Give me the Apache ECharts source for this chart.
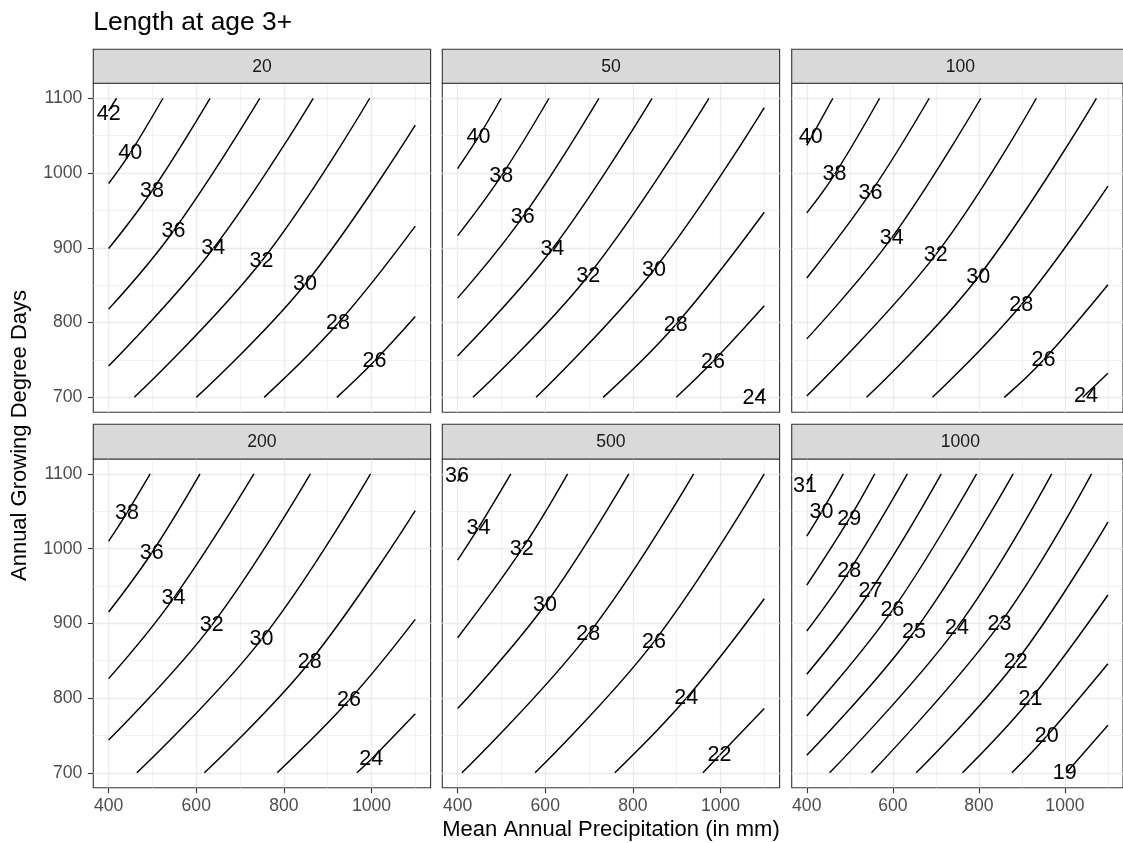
<!DOCTYPE html>
<html><head><meta charset="utf-8">
<script src="https://cdn.jsdelivr.net/npm/echarts@6/dist/echarts.min.js"></script>
<style>html,body{margin:0;padding:0;background:#fff}#c{width:1123px;height:843px}</style>
</head><body><div id="c"></div>
<script>
// ---------- data ----------
const facetLabels = ['20', '50', '100', '200', '500', '1000'];
const xTicks = [400, 600, 800, 1000];
const xMinor = [500, 700, 900, 1100];
const yTicks = [700, 800, 900, 1000, 1100];
const yMinor = [750, 850, 950, 1050];

// contour lines: [level, [[precip, gdd], ...]]
const lines20 = [
  [42, [[400,1083],[418,1100]]],
  [40, [[400,986],[449.4,1027],[524,1100]]],
  [38, [[400,899],[498.8,976],[631.5,1100]]],
  [36, [[400,818],[548,922.5],[745,1100]]],
  [34, [[400,742],[639,899],[867,1100]]],
  [32, [[458.5,700],[749,882],[996,1100]]],
  [30, [[600,700],[848,851],[1100,1064]]],
  [28, [[755,700],[923.6,799],[1100,929]]],
  [26, [[921,700],[1007,748.6],[1100,808]]]
];
const labels20 = [[400,1079,42],[449.4,1027,40],[498.8,976,38],[548,922.5,36],[639,899,34],[749,882,32],[848,851,30],[923.6,799,28],[1007,748.6,26]];

const lines50 = [
  [40, [[400,1006],[447.8,1048.6],[499.4,1100]]],
  [38, [[400,916.3],[499.4,995.9],[608.6,1100]]],
  [36, [[400,832.7],[548.7,941.3],[722.5,1100]]],
  [34, [[400,755.4],[616.2,898.4],[843.9,1100]]],
  [32, [[434.9,700],[698.2,862.7],[973.6,1100]]],
  [30, [[579,700],[848.4,870.7],[1100,1087.5]]],
  [28, [[732.3,700],[897.7,797],[1100,947.6]]],
  [26, [[899.2,700],[982.7,747.8],[1100,822.5]]],
  [24, [[1085,700],[1100,712]]]
];
const labels50 = [[447.8,1048.6,40],[499.4,995.9,38],[548.7,941.3,36],[616.2,898.4,34],[698.2,862.7,32],[848.4,870.7,30],[897.7,797,28],[982.7,747.8,26],[1077.5,698.7,24]];

const lines100 = [
  [40, [[400,1037],[460.7,1100]]],
  [38, [[400,946.7],[464.5,998],[569.3,1100]]],
  [36, [[400,859.6],[548,973.5],[684.6,1100]]],
  [34, [[400,778.2],[597.3,913.2],[804.6,1100]]],
  [32, [[400,701.8],[699.8,890.8],[933.6,1100]]],
  [30, [[538.9,700],[798.5,860.9],[1073.2,1100]]],
  [28, [[692.2,700],[898.7,823.8],[1100,982.5]]],
  [26, [[859.2,700],[950.3,750],[1100,850.6]]],
  [24, [[1041.4,700],[1100,732.2]]]
];
const labels100 = [[409,1048.6,40],[464.5,998,38],[548,973.5,36],[597.3,913.2,34],[699.8,890.8,32],[798.5,860.9,30],[898.7,823.8,28],[950.3,750,26],[1049,701.8,24]];

const lines200 = [
  [38, [[400,1010],[441.7,1048],[494.8,1100]]],
  [36, [[400,915.2],[498.6,994.5],[608.6,1100]]],
  [34, [[400,826],[548,933.4],[731.6,1100]]],
  [32, [[400,744],[635.2,897.3],[860.5,1100]]],
  [30, [[464.5,700],[749,878.6],[997.9,1100]]],
  [28, [[618.5,700],[859,848.3],[1100,1051]]],
  [26, [[784.7,700],[948.6,797],[1100,905.3]]],
  [24, [[966.8,700],[999.4,718],[1100,779]]]
];
const labels200 = [[441.7,1048,38],[498.6,994.5,36],[548,933.4,34],[635.2,897.3,32],[749,878.6,30],[859,848.3,28],[948.6,797,26],[999.4,718,24]];

const lines500 = [
  [36, [[400,1090],[410,1100]]],
  [34, [[400,984.7],[447.8,1028],[521.4,1100]]],
  [32, [[400,880.8],[546.4,999],[651.1,1100]]],
  [30, [[400,785.9],[599.5,924.5],[790.7,1100]]],
  [28, [[409.9,700],[698.2,885.3],[938.7,1100]]],
  [26, [[576.8,700],[848.4,875.5],[1100,1100]]],
  [24, [[758.9,700],[922,799.7],[1100,933]]],
  [22, [[960,700],[997.9,723.4],[1100,785.9]]]
];
const labels500 = [[398.5,1097,36],[447.8,1028,34],[546.4,999,32],[599.5,924.5,30],[698.2,885.3,28],[848.4,875.5,26],[922,799.7,24],[997.9,723.4,22]];

const lines1000 = [
  [31, [[400,1086],[412.9,1100]]],
  [30, [[400,1016.8],[434.2,1049],[485,1100]]],
  [29, [[400,951.3],[498.7,1040],[557.9,1100]]],
  [28, [[400,889.7],[498.7,970],[633.8,1100]]],
  [27, [[400,831.8],[548,943.3],[712.7,1100]]],
  [26, [[400,776],[598.9,917.4],[794.7,1100]]],
  [25, [[400,723.4],[649,888.4],[879.7,1100]]],
  [24, [[453.1,700],[749.1,894.2],[969.3,1100]]],
  [23, [[550.3,700],[847.8,898.7],[1061.9,1100]]],
  [22, [[654.3,700],[885.8,848],[1100,1035.6]]],
  [21, [[762,700],[919.9,798.3],[1100,937.9]]],
  [20, [[876.7,700],[957.9,749.3],[1100,846]]],
  [19, [[1003.4,700],[1100,763.5]]]
];
const labels1000 = [[396,1083.7,31],[434.2,1049,30],[498.7,1040,29],[498.7,970,28],[548,943.3,27],[598.9,917.4,26],[649,888.4,25],[749.1,894.2,24],[847.8,898.7,23],[885.8,848,22],[919.9,798.3,21],[957.9,749.3,20],[999.6,700,19]];

const panelLines = [lines20, lines50, lines100, lines200, lines500, lines1000];
const panelLabels = [labels20, labels50, labels100, labels200, labels500, labels1000];

// ---------- layout ----------
const FONT = '"Liberation Sans", Arial, sans-serif';
const colLeft = [93.3, 442.3, 791.7];
const panelW = 337.3;
const rowTop = [83.3, 459];
const panelH = [329, 328.7];
const stripTop = [49.3, 424.3];
const plain = function (v) { return String(v); };

const grids = [], xAxes = [], yAxes = [], series = [], graphics = [];

for (let i = 0; i < 6; i++) {
  const col = i % 3, row = Math.floor(i / 3);
  grids.push({left: colLeft[col], top: rowTop[row], width: panelW, height: panelH[row],
    show: true, borderColor: '#333333', borderWidth: 1.1, backgroundColor: '#ffffff', containLabel: false});
  const showX = row === 1, showY = col === 0;
  xAxes.push({type: 'value', gridIndex: i, min: 365, max: 1135, position: 'bottom',
    axisLine: {show: false},
    axisTick: {show: showX, length: 5.5, customValues: xTicks, lineStyle: {color: '#333333', width: 1.1}},
    axisLabel: {show: showX, customValues: xTicks, formatter: plain, margin: 9, fontSize: 17.6, color: '#4d4d4d', fontFamily: FONT},
    splitLine: {show: true, lineStyle: {color: '#ebebeb', width: 1.3}}});
  xAxes.push({type: 'value', gridIndex: i, min: 365, max: 1135, position: 'bottom',
    axisLine: {show: false},
    axisTick: {show: false, customValues: xMinor},
    axisLabel: {show: false, customValues: xMinor},
    splitLine: {show: true, lineStyle: {color: '#ebebeb', width: 0.65}}});
  yAxes.push({type: 'value', gridIndex: i, min: 680, max: 1120, position: 'left',
    axisLine: {show: false},
    axisTick: {show: showY, length: 5.5, customValues: yTicks, lineStyle: {color: '#333333', width: 1.1}},
    axisLabel: {show: showY, customValues: yTicks, formatter: plain, margin: 11, fontSize: 17.6, color: '#4d4d4d', fontFamily: FONT},
    splitLine: {show: true, lineStyle: {color: '#ebebeb', width: 1.3}}});
  yAxes.push({type: 'value', gridIndex: i, min: 680, max: 1120, position: 'left',
    axisLine: {show: false},
    axisTick: {show: false, customValues: yMinor},
    axisLabel: {show: false, customValues: yMinor},
    splitLine: {show: true, lineStyle: {color: '#ebebeb', width: 0.65}}});

  panelLines[i].forEach(function (ln) {
    series.push({type: 'line', name: facetLabels[i] + '-' + ln[0], xAxisIndex: 2 * i, yAxisIndex: 2 * i,
      data: ln[1], smooth: 0.4, showSymbol: false, symbol: 'none', silent: true, clip: true,
      lineStyle: {color: '#000000', width: 1.45, opacity: 1}, z: 3});
  });
  series.push({type: 'scatter', xAxisIndex: 2 * i, yAxisIndex: 2 * i, data: panelLabels[i],
    symbolSize: 1, itemStyle: {color: '#ffffff', opacity: 1}, silent: true, clip: false, z: 5,
    label: {show: true, position: 'inside', formatter: function (p) { return String(p.value[2]); },
      fontSize: 21.5, color: '#000000', opacity: 1, textBorderWidth: 0, fontFamily: FONT}});

  // strip
  graphics.push({type: 'rect', shape: {x: colLeft[col], y: stripTop[row], width: panelW, height: rowTop[row] - stripTop[row]},
    style: {fill: '#d9d9d9', stroke: '#333333', lineWidth: 1.1}, z: 10});
  graphics.push({type: 'text', x: colLeft[col] + panelW / 2, y: (stripTop[row] + rowTop[row]) / 2 + 0.5,
    style: {text: facetLabels[i], align: 'center', verticalAlign: 'middle', fontSize: 17.6, fill: '#1a1a1a', fontFamily: FONT}, z: 11});
}

graphics.push({type: 'text', x: 93.3, y: 22.7,
  style: {text: 'Length at age 3+', align: 'left', verticalAlign: 'middle', fontSize: 26.4, fill: '#000000', fontFamily: FONT}, z: 11});
graphics.push({type: 'text', x: 611, y: 830,
  style: {text: 'Mean Annual Precipitation (in mm)', align: 'center', verticalAlign: 'middle', fontSize: 22, fill: '#000000', fontFamily: FONT}, z: 11});
graphics.push({type: 'text', x: 20.3, y: 435.5, rotation: Math.PI / 2,
  style: {text: 'Annual Growing Degree Days', align: 'center', verticalAlign: 'middle', fontSize: 22, fill: '#000000', fontFamily: FONT}, z: 11});

const chart = echarts.init(document.getElementById('c'), null, {renderer: 'canvas'});
chart.setOption({
  animation: false,
  backgroundColor: '#ffffff',
  grid: grids, xAxis: xAxes, yAxis: yAxes, series: series, graphic: graphics
});
</script></body></html>
